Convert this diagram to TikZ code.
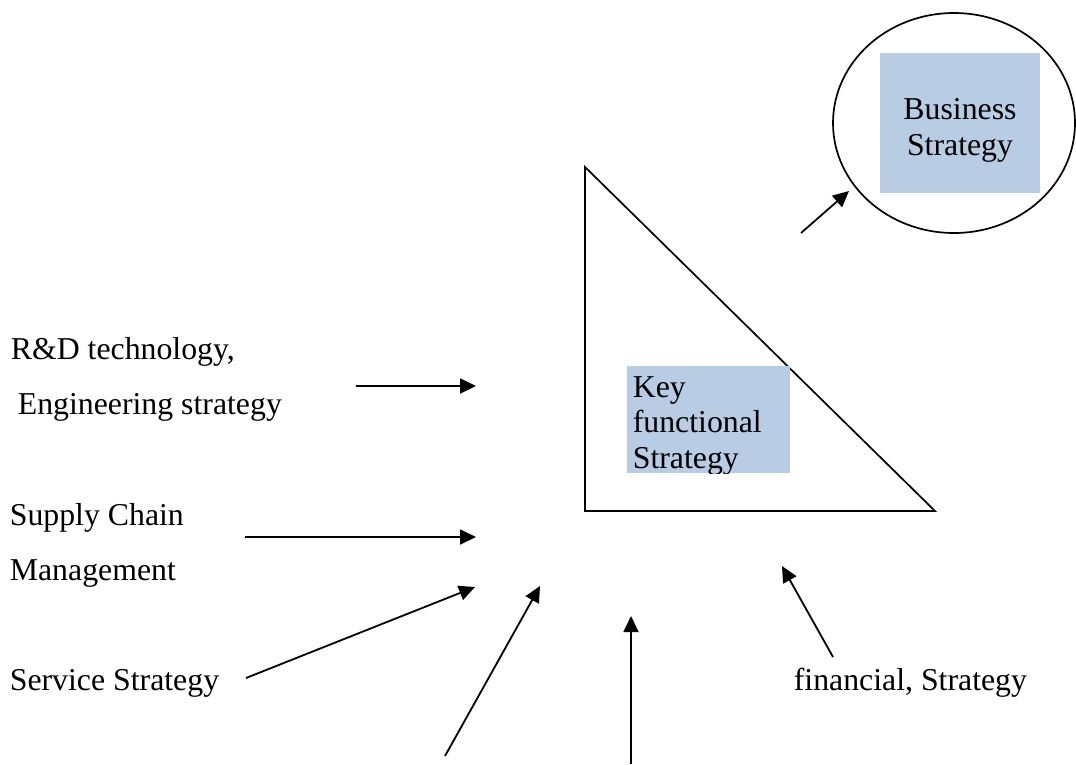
\documentclass[tikz,border=0pt]{standalone}
\usepackage{fontspec}
\setmainfont{Liberation Serif}
\usetikzlibrary{arrows.meta,shapes.geometric}
\definecolor{boxblue}{RGB}{184,204,228}
\begin{document}
\begin{tikzpicture}[x=1pt,y=-1pt,line width=1.7pt,
  lbl/.style={inner sep=0pt,anchor=base west,font=\fontsize{31.8}{36}\selectfont},
  clbl/.style={inner sep=0pt,anchor=base,font=\fontsize{31.8}{36}\selectfont},
  arr/.style={-{Triangle[length=16pt,width=15pt]},line width=1.8pt},
  bluebox/.style={fill=boxblue,inner sep=0pt}]
\useasboundingbox (0,0) rectangle (1076,764);
% business strategy
\node (bizoval) [draw,ellipse,inner sep=0pt,minimum width=242pt,minimum height=220pt] at (954,123) {};
\node (bizbox) [bluebox,minimum width=160pt,minimum height=140pt] at (960,123) {};
\node (biz1) [clbl] at (960,119) {Business};
\node (biz2) [clbl] at (960,155) {Strategy};
% triangle
\coordinate (ta) at (585,167);
\coordinate (tb) at (585,511);
\coordinate (tc) at (935,511);
\draw[line join=miter] (ta) -- (tb) -- (tc) -- cycle;
% key functional strategy
\node (keybox) [bluebox,minimum width=163pt,minimum height=107pt] at (708.5,419.5) {};
\begin{scope}
\clip (keybox.south west) rectangle (keybox.north east);
\node (key1) [lbl] at (632,397) {Key};
\node (key2) [lbl] at (632,432) {functional};
\node (key3) [lbl] at (632,468) {Strategy};
\end{scope}
% labels
\node (rd1) [lbl] at (10,359) {R\&D technology,};
\node (rd2) [lbl] at (17,414) {Engineering strategy};
\node (sc1) [lbl] at (9,525) {Supply Chain};
\node (sc2) [lbl] at (9,580) {Management};
\node (sv) [lbl] at (9,690) {Service Strategy};
\node (fn) [lbl] at (793,690) {financial, Strategy};
% arrow ends
\coordinate (rdtail) at (356,386);  \coordinate (rdtip) at (476,386);
\coordinate (sctail) at (245,537);  \coordinate (sctip) at (476,537);
\coordinate (svtail) at (246,678);  \coordinate (svtip) at (475,587);
\coordinate (dgtail) at (445,756);  \coordinate (dgtip) at (540,586);
\coordinate (vttail) at (631,764);  \coordinate (vttip) at (631,616);
\coordinate (fntail) at (833,657);  \coordinate (fntip) at (782,566);
\coordinate (bztail) at (801,233);  \coordinate (bztip) at (849,191);
% arrows
\draw[arr] (rdtail) -- (rdtip);
\draw[arr] (sctail) -- (sctip);
\draw[arr] (svtail) -- (svtip);
\draw[arr] (dgtail) -- (dgtip);
\draw[arr] (vttail) -- (vttip);
\draw[arr] (fntail) -- (fntip);
\draw[arr] (bztail) -- (bztip);
\end{tikzpicture}
\end{document}
